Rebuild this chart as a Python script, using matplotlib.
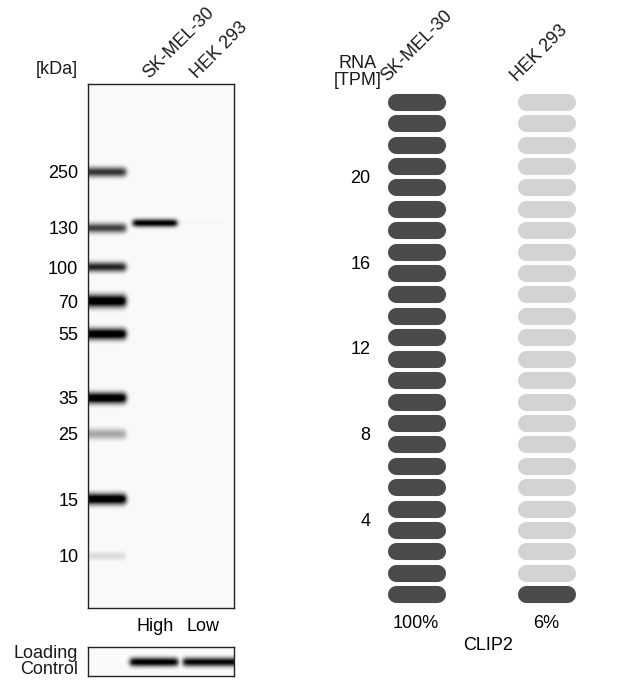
import numpy as np
import matplotlib
matplotlib.use("Agg")
import matplotlib.pyplot as plt

plt.rcParams["font.family"] = ["Liberation Sans", "DejaVu Sans"]
plt.rcParams["font.size"] = 13
plt.rcParams["text.color"] = "#1a1a1a"

# --- western blot data (rows are pixel rows inside the membrane) ---
lanes = ["SK-MEL-30", "HEK 293"]
lane_levels = ["High", "Low"]
lane_centers = [67, 115]
marker_kda = ["250", "130", "100", "70", "55", "35", "25", "15", "10"]
marker_rows = [88, 144, 183, 217, 250, 314, 350, 415, 472]
marker_strength = [0.7, 0.65, 0.75, 1.0, 1.0, 1.0, 0.3, 1.0, 0.12]
marker_thick = [3.5, 3.5, 3.5, 4.5, 4.0, 4.0, 4.0, 4.0, 3.5]
sample_row = [139, 138]
sample_strength = [0.95, 0.04]
loading_strength = [0.95, 0.9]
loading_spans = [(42, 90), (95, 152)]

# --- RNA data ---
rna_pct = ["100%", "6%"]
n_pills = 24
filled_pills = [24, 1]
rna_ticks = [4, 8, 12, 16, 20]
gene = "CLIP2"

fig = plt.figure(figsize=(6.4, 6.81), dpi=100)


def px_axes(x0, y0, x1, y1):
    return fig.add_axes([x0 / 640, 1 - y1 / 681, (x1 - x0) / 640, (y1 - y0) / 681])


def band(xx, yy, x0, x1, row, thick, strength, soft=3.0):
    win = 0.5 * (np.tanh((xx - x0) / soft) - np.tanh((xx - x1) / soft))
    return strength * win * np.exp(-0.5 * ((yy - row) / thick) ** 2)


# main blot
W, H = 146, 524
xx, yy = np.meshgrid(np.arange(W) + 0.5, np.arange(H) + 0.5)
img = np.full((H, W), 0.025)
for r, s, t in zip(marker_rows, marker_strength, marker_thick):
    img = np.maximum(img, band(xx, yy, -5, 38, r, t, s * 1.15))
for c, r, s in zip(lane_centers, sample_row, sample_strength):
    img = np.maximum(img, band(xx, yy, c - 22, c + 22, r, 2.8, s * 1.1))
img = np.clip(img, 0, 1)

ax = px_axes(88, 84, 234, 608)
ax.imshow(img, cmap="gray_r", vmin=0, vmax=1, extent=(0, W, H, 0),
          aspect="auto", interpolation="bilinear")
ax.set_xlim(0, W)
ax.set_ylim(H, 0)
ax.set_yticks(marker_rows)
ax.set_yticklabels(marker_kda)
ax.set_xticks(lane_centers)
ax.set_xticklabels(lane_levels)
ax.tick_params(length=0, pad=7)
ax.tick_params(axis="x", pad=7)
for sp in ax.spines.values():
    sp.set_color("#222222")
    sp.set_linewidth(1.0)
ax.text(-10, -6, "[kDa]", ha="right", va="bottom")
for c, name in zip(lane_centers, lanes):
    ax.annotate(name, xy=(c, 0), xycoords="data", xytext=(-3, 2),
                textcoords="offset pixels", rotation=45, rotation_mode="anchor",
                ha="left", va="bottom")

# loading control
lh = 29
xx2, yy2 = np.meshgrid(np.arange(W) + 0.5, np.arange(lh) + 0.5)
img2 = np.full((lh, W), 0.02)
for (x0, x1), s in zip(loading_spans, loading_strength):
    img2 = np.maximum(img2, band(xx2, yy2, x0, x1, 15, 3.2, s * 1.1, 3.0))
img2 = np.clip(img2, 0, 1)
ax2 = px_axes(88, 647, 234, 676)
ax2.imshow(img2, cmap="gray_r", vmin=0, vmax=1, extent=(0, W, lh, 0),
           aspect="auto", interpolation="bilinear")
ax2.set_xticks([])
ax2.set_yticks([])
for sp in ax2.spines.values():
    sp.set_color("#222222")
    sp.set_linewidth(1.0)
ax2.text(-10, lh / 2, "Loading\nControl", ha="right", va="center",
         linespacing=0.9)

# RNA pills
axr = px_axes(376, 91, 600, 605)
axr.set_xlim(-40 / 130, 184 / 130)
axr.set_ylim(0, n_pills)
half = 20.5 / 130
for i, nf in enumerate(filled_pills):
    for k in range(n_pills):
        col = "#4b4b4b" if k < nf else "#d3d3d3"
        axr.plot([i - half, i + half], [k + 0.5, k + 0.5], color=col,
                 lw=12.3, solid_capstyle="round")
axr.set_yticks(rna_ticks)
axr.set_xticks([0, 1])
axr.set_xticklabels(rna_pct)
axr.tick_params(length=0, pad=4)
axr.tick_params(axis="x", pad=7)
axr.set_xlabel(gene, labelpad=4)
for sp in axr.spines.values():
    sp.set_visible(False)
axr.text(-0.45, n_pills + 0.1, "RNA\n[TPM]", ha="center", va="bottom",
         linespacing=1.0)
for i, name in enumerate(lanes):
    axr.annotate(name, xy=(i, n_pills), xycoords="data", xytext=(-26, 6),
                 textcoords="offset pixels", rotation=45, rotation_mode="anchor",
                 ha="left", va="bottom")

fig.savefig("out.png", dpi=100)
